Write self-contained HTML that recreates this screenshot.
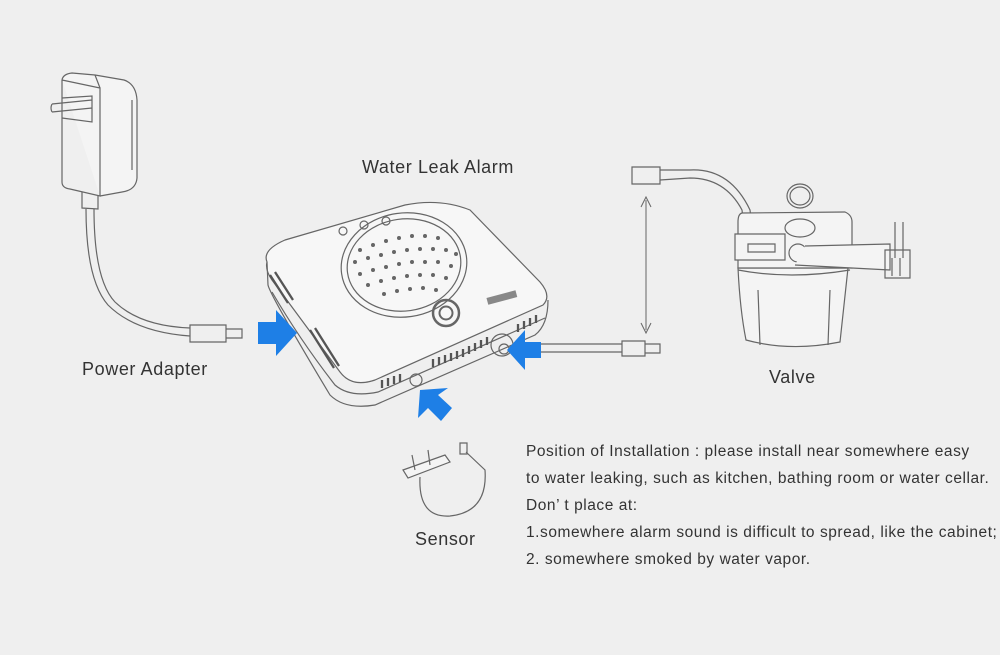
<!DOCTYPE html>
<html><head><meta charset="utf-8"><style>
html,body{margin:0;padding:0;background:#efefef;}
body{width:1000px;height:655px;position:relative;overflow:hidden;font-family:"Liberation Sans",sans-serif;color:#333;}
.t{position:absolute;font-size:18px;letter-spacing:0.6px;white-space:nowrap;}
.p{position:absolute;left:526px;font-size:15.5px;letter-spacing:0.55px;white-space:nowrap;color:#333;}
</style></head><body>
<svg width="1000" height="655" style="position:absolute;left:0;top:0" fill="none" stroke="#666" stroke-width="1.2">
<!-- power adapter -->
<path d="M62 80 Q63 74 72 73 L95 75 L124 80 Q136 84 137 100 L137 178 Q136 190 122 192 L100 196" fill="#f4f4f4"/>
<path d="M62 80 L62 182 Q62 188 70 189 L100 196 L100 88 L62 80"/>
<path d="M100 88 L95 75 M132 100 L132 170"/>
<path d="M52 104 L92 100 M52 112 L92 108 M52 104 Q50 108 52 112 M62 98 L92 96 L92 122 L62 118"/>
<path d="M82 192 L82 208 L98 209 L98 196"/>
<path d="M86 209 Q86 280 108 305 Q135 332 190 336 M94 209 Q94 280 115 302 Q140 326 190 328"/>
<path d="M190 325 L226 325 L226 342 L190 342 Z M226 329 L242 329 L242 338 L226 338"/>
<!-- device -->
<path d="M267 262 Q262 250 285 240 L405 205 Q440 198 470 210 L540 282 Q552 296 543 305 L375 380 Q352 388 340 372 L272 280 Q265 270 267 262 Z" fill="#f7f7f7"/>
<path d="M267 262 L268 285 Q270 295 330 395 Q345 410 375 405 L535 335 Q548 325 548 300"/>
<path d="M272 292 Q300 340 335 385 Q350 398 378 392 L545 318"/>
<ellipse cx="404" cy="265" rx="63" ry="52" transform="rotate(-8 404 265)"/>
<ellipse cx="404" cy="265" rx="57" ry="46" transform="rotate(-8 404 265)"/>
<g fill="#666" stroke="none">
<circle cx="360" cy="250" r="2"/><circle cx="373" cy="245" r="2"/><circle cx="386" cy="241" r="2"/><circle cx="399" cy="238" r="2"/><circle cx="412" cy="236" r="2"/><circle cx="425" cy="236" r="2"/><circle cx="438" cy="238" r="2"/>
<circle cx="355" cy="262" r="2"/><circle cx="368" cy="258" r="2"/><circle cx="381" cy="255" r="2"/><circle cx="394" cy="252" r="2"/><circle cx="407" cy="250" r="2"/><circle cx="420" cy="249" r="2"/><circle cx="433" cy="249" r="2"/><circle cx="446" cy="250" r="2"/><circle cx="456" cy="254" r="2"/>
<circle cx="360" cy="274" r="2"/><circle cx="373" cy="270" r="2"/><circle cx="386" cy="267" r="2"/><circle cx="399" cy="264" r="2"/><circle cx="412" cy="262" r="2"/><circle cx="425" cy="262" r="2"/><circle cx="438" cy="262" r="2"/><circle cx="451" cy="266" r="2"/>
<circle cx="368" cy="285" r="2"/><circle cx="381" cy="281" r="2"/><circle cx="394" cy="278" r="2"/><circle cx="407" cy="276" r="2"/><circle cx="420" cy="275" r="2"/><circle cx="433" cy="275" r="2"/><circle cx="446" cy="278" r="2"/>
<circle cx="384" cy="294" r="2"/><circle cx="397" cy="291" r="2"/><circle cx="410" cy="289" r="2"/><circle cx="423" cy="288" r="2"/><circle cx="436" cy="290" r="2"/>
</g>
<circle cx="343" cy="231" r="4"/><circle cx="364" cy="225" r="4"/><circle cx="386" cy="221" r="4"/>
<circle cx="446" cy="313" r="13" stroke-width="2.5"/><circle cx="446" cy="313" r="6.5" stroke-width="2"/>
<rect x="487" y="294" width="30" height="7" transform="rotate(-15 502 298)" fill="#888" stroke="none"/>
<circle cx="502" cy="345" r="11"/><circle cx="504" cy="349" r="5"/>
<circle cx="416" cy="380" r="6"/>
<g stroke="#555" stroke-width="2.3">
<path d="M433 367 l0 -8 M439 365 l0 -8 M445 363 l0 -8 M451 361 l0 -8 M457 359 l0 -8 M463 357 l0 -8 M469 354 l0 -8 M475 351 l0 -8 M481 348 l0 -8 M487 345 l0 -8"/>
<path d="M382 388 l0 -8 M388 386 l0 -8 M394 384 l0 -8 M400 382 l0 -8"/>
<path d="M518 332 l0 -8 M524 329 l0 -8 M530 326 l0 -8 M536 323 l0 -8"/>
<path d="M270 275 l18 28 M275 272 l18 28"/>
<path d="M310 330 l24 38 M315 328 l24 38"/>
</g>
<!-- valve cable -->
<path d="M520 352 L622 352 M520 344 L622 344"/>
<path d="M622 341 L645 341 L645 356 L622 356 Z M645 344 L660 344 L660 353 L645 353"/>
<path d="M646 200 L646 330" stroke-width="1"/>
<path d="M641 207 L646 197 L651 207 M641 323 L646 333 L651 323" stroke-width="1"/>
<!-- valve -->
<path d="M632 167 L660 167 L660 184 L632 184 Z M660 170 L690 170 Q730 168 750 210 L752 225 M660 180 L690 178 Q725 178 742 210 L744 225"/>
<path d="M738 268 Q740 310 746 340 Q790 352 840 342 L848 268 Z" fill="#f4f4f4"/>
<path d="M742 213 L845 212 Q852 215 852 222 L852 268 L738 268 L738 222 Q738 214 742 213 Z" fill="#f4f4f4"/>
<path d="M738 270 Q790 280 850 270 M758 290 L760 345 M830 290 L828 345"/>
<path d="M735 234 L785 234 L785 260 L735 260 Z" fill="#f4f4f4"/>
<path d="M748 244 L775 244 L775 252 L748 252 Z"/>
<ellipse cx="800" cy="196" rx="13" ry="12"/><ellipse cx="800" cy="196" rx="10" ry="9"/>
<ellipse cx="800" cy="228" rx="15" ry="9" fill="#f4f4f4"/>
<circle cx="798" cy="253" r="9" fill="#f4f4f4"/>
<path d="M805 246 L890 244 L890 270 L795 265" fill="#f4f4f4"/>
<path d="M885 250 L910 250 L910 278 L885 278 Z"/>
<path d="M895 222 L895 258 M903 222 L903 258 M892 258 L892 276 M900 258 L900 276"/>
<!-- sensor -->
<path d="M403 470 L445 455 L450 462 L408 478 Z" fill="#f4f4f4"/>
<path d="M412 455 L415 470 M428 450 L430 465 M420 477 Q418 518 450 516 Q488 512 485 470 L466 452"/>
<path d="M460 443 L467 443 L467 454 L460 454 Z"/>
<!-- blue arrows -->
<g fill="#1e7fe6" stroke="none">
<path d="M258 322 L276 322 L276 310 L297 333 L276 356 L276 344 L258 344 Z"/>
<path d="M541 342 L525 342 L525 330 L507 350 L525 370 L525 358 L541 358 Z"/>
<path d="M452 408 L438 395 L448 388 L420 390 L418 418 L428 408 L441 421 Z"/>
</g>
</svg>
<div class="t" style="left:362px;top:157px">Water Leak Alarm</div>
<div class="t" style="left:82px;top:359px">Power Adapter</div>
<div class="t" style="left:769px;top:367px">Valve</div>
<div class="t" style="left:415px;top:529px">Sensor</div>
<div class="p" style="top:443px">Position of Installation : please install near somewhere easy</div>
<div class="p" style="top:470px">to water leaking, such as kitchen, bathing room or water cellar.</div>
<div class="p" style="top:497px">Don’ t place at:</div>
<div class="p" style="top:524px">1.somewhere alarm sound is difficult to spread, like the cabinet;</div>
<div class="p" style="top:551px">2. somewhere smoked by water vapor.</div>
</body></html>
